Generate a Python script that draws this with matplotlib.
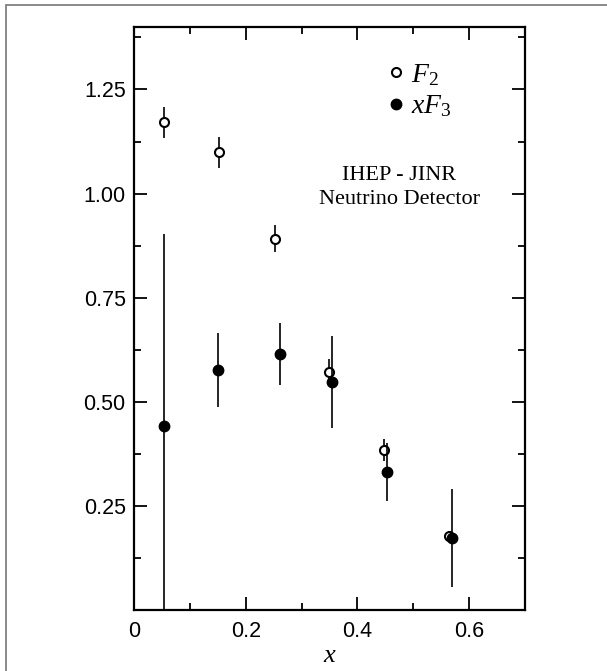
import matplotlib.pyplot as plt
from matplotlib.lines import Line2D
from matplotlib.patches import Rectangle
from matplotlib.ticker import FixedLocator

plt.rcParams['font.family'] = 'Liberation Sans'
plt.rcParams['mathtext.fontset'] = 'custom'
plt.rcParams['mathtext.rm'] = 'Liberation Serif'
plt.rcParams['mathtext.it'] = 'Liberation Serif:italic'

# F2 (open circles)
x_f2 = [0.053, 0.152, 0.252, 0.349, 0.448, 0.564]
f2 = [1.171, 1.099, 0.892, 0.572, 0.385, 0.178]
f2_err = [0.037, 0.037, 0.032, 0.030, 0.026, 0.012]

# xF3 (filled circles)
x_xf3 = [0.054, 0.150, 0.261, 0.354, 0.453, 0.569]
xf3 = [0.443, 0.577, 0.615, 0.548, 0.332, 0.173]
xf3_err = [0.46, 0.089, 0.075, 0.11, 0.07, 0.118]

fig = plt.figure(figsize=(6.07, 6.71), dpi=100)
ax = fig.add_axes([134 / 607, 1 - 610 / 671, 391 / 607, 583 / 671])

ax.errorbar(x_f2, f2, yerr=f2_err, fmt='o', ms=6.5, mfc='white', mec='black',
            mew=1.5, ecolor='black', elinewidth=1.2, capsize=0, zorder=3)
ax.errorbar(x_xf3, xf3, yerr=xf3_err, fmt='o', ms=7.5, mfc='black', mec='black',
            ecolor='black', elinewidth=1.2, capsize=0, zorder=4)

ax.set_xlim(0, 0.7)
ax.set_ylim(0, 1.40)
ax.xaxis.set_major_locator(FixedLocator([0, 0.2, 0.4, 0.6]))
ax.xaxis.set_minor_locator(FixedLocator([0.1, 0.3, 0.5]))
ax.yaxis.set_major_locator(FixedLocator([0.25, 0.5, 0.75, 1.0, 1.25]))
ax.yaxis.set_minor_locator(FixedLocator([0.125, 0.375, 0.625, 0.875, 1.125, 1.375]))
ax.set_xticklabels(['0', '0.2', '0.4', '0.6'])
ax.set_yticklabels(['0.25', '0.50', '0.75', '1.00', '1.25'])

ax.tick_params(which='both', direction='in', top=True, right=True, width=1.3)
ax.tick_params(which='major', length=9.5, labelsize=15.5)
ax.tick_params(axis='x', which='major', pad=8)
ax.tick_params(axis='y', which='major', pad=6)
ax.tick_params(which='minor', length=5)
for s in ax.spines.values():
    s.set_linewidth(1.6)

ax.set_xlabel('$x$', fontsize=19, labelpad=1)

handles = [
    Line2D([], [], ls='none', marker='o', ms=6.5, mfc='white', mec='black', mew=1.5),
    Line2D([], [], ls='none', marker='o', ms=7.5, mfc='black', mec='black'),
]
ax.legend(handles, ['$F_2$', '$xF_3$'], loc='upper left',
          bbox_to_anchor=(0.612, 0.964), frameon=False, fontsize=20,
          handlelength=0.6, handletextpad=0.25, labelspacing=0.2, borderpad=0)

ax.text(0.678, 0.724, 'IHEP - JINR\nNeutrino Detector', transform=ax.transAxes,
        ha='center', va='center', family='Liberation Serif', fontsize=16,
        linespacing=1.35)

# outer frame
fig.add_artist(Rectangle((6 / 607, -0.1), 2, 1.1 - 5 / 671, transform=fig.transFigure,
                         fill=False, edgecolor='#808080', lw=1.3))

fig.savefig('out.png', dpi=100)
